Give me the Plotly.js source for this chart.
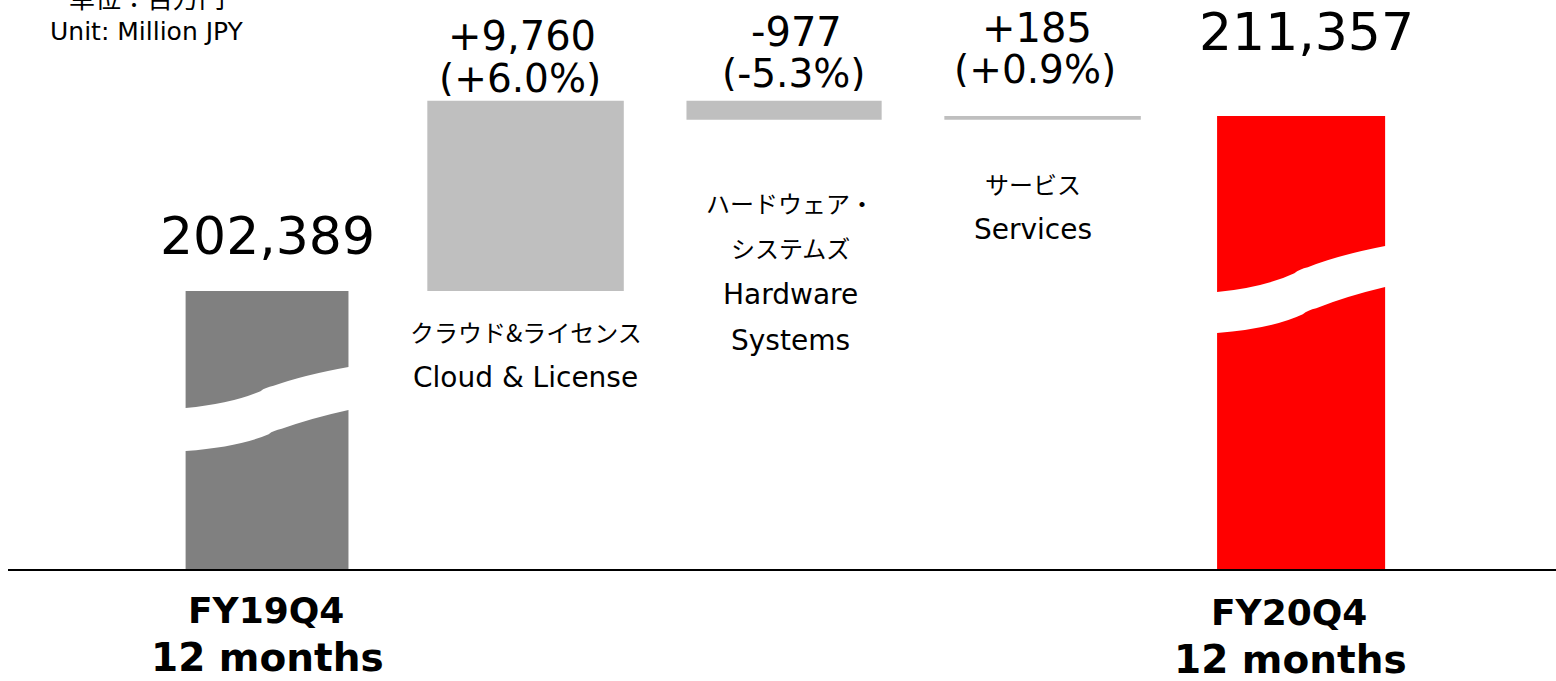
<!DOCTYPE html>
<html>
<head>
<meta charset="utf-8">
<script src="https://cdn.plot.ly/plotly-3.0.1.min.js"></script>
<style>
  html, body { margin: 0; padding: 0; background: #ffffff; }
  #chart { width: 1556px; height: 681px; }
</style>
</head>
<body>
<div id="chart"></div>
<script>
// ---------------- DATA ----------------
const totalLabels = ['FY19Q4', 'FY20Q4'];
const totalPeriod = ['12 months', '12 months'];
const totalValues = [202389, 211357];

const deltaValues = [9760, -977, 185];
const deltaPct = [6.0, -5.3, 0.9];
const deltaLinesJa = [['クラウド&ライセンス'], ['ハードウェア・', 'システムズ'], ['サービス']];
const deltaLinesEn = [['Cloud & License'], ['Hardware', 'Systems'], ['Services']];

const unitJa = '単位：百万円';
const unitEn = 'Unit: Million JPY';

// ---------------- BUILD ----------------
const LATIN = 'DejaVu Sans, Verdana, sans-serif';
const JA = 'Noto Sans CJK JP, sans-serif';
const PLOT_H = 569;
const totalX = [0, 4];
const deltaX = [1, 2, 3];
const totalW = [0.63, 0.65];
const deltaW = [0.76, 0.755, 0.76];

// cumulative bases for the bridge
const deltaBase = [];
let run = totalValues[0];
deltaValues.forEach(v => { deltaBase.push(run); run += v; });

const fmt = n => Math.abs(n).toLocaleString('en-US');
const sign = n => (n >= 0 ? '+' : '-');

const traces = [
  {
    type: 'bar', x: totalX, y: totalValues, width: totalW,
    marker: { color: ['#808080', '#ff0000'], line: { width: 0 } },
    hoverinfo: 'skip', showlegend: false
  },
  {
    type: 'bar', x: deltaX, y: deltaValues, base: deltaBase, width: deltaW,
    marker: { color: '#bfbfbf', line: { width: 0 } },
    hoverinfo: 'skip', showlegend: false
  }
];

const py = p => 1 - p / PLOT_H; // pixel row inside plot -> paper y

const ann = [];
function addText(text, x, xref, yPx, size, family, extra) {
  ann.push(Object.assign({
    text: text, x: x, xref: xref, y: py(yPx), yref: 'paper',
    xanchor: 'center', yanchor: 'middle', showarrow: false,
    font: { size: size, family: family, color: '#000000' }
  }, extra || {}));
}

// total value labels
const totalValY = [236, 32];
totalValues.forEach((v, i) => addText(v.toLocaleString('en-US'), totalX[i], 'x', totalValY[i], 52, LATIN, { xshift: i === 1 ? 5 : 0 }));

// bottom period labels
const totShift = [-1, -12];
totalLabels.forEach((t, i) => {
  addText('<b>' + t + '</b>', totalX[i], 'x', 610 + i * 2, 36, LATIN, { xshift: totShift[i] });
  addText('<b>' + totalPeriod[i] + '</b>', totalX[i], 'x', 657 + i * 2, 39, LATIN, { xshift: totShift[i] + 1 });
});

// delta labels
const dValY = [36, 32, 28];
const dPctY = [78, 73, 69];
const dShift = [-4, 12, -6];
deltaValues.forEach((v, i) => {
  addText(sign(v) + fmt(v), deltaX[i], 'x', dValY[i], 40, LATIN, { xshift: dShift[i], height: 36, valign: 'middle' });
  addText('(' + sign(deltaPct[i]) + Math.abs(deltaPct[i]).toFixed(1) + '%)', deltaX[i], 'x', dPctY[i], 39, LATIN, { xshift: dShift[i] - 2, height: 36, valign: 'middle' });
});

// category labels under delta bars
const catStartY = [331, 202, 183];
const catShift = [0, 6, -10];
deltaX.forEach((x, i) => {
  let y = catStartY[i];
  deltaLinesJa[i].forEach(t => { addText(t, x, 'x', y, 24, JA, { xshift: catShift[i] }); y += 46; });
  deltaLinesEn[i].forEach(t => { addText(t, x, 'x', y, 28, LATIN, { xshift: catShift[i] }); y += 46; });
});

// unit
addText(unitJa, 140 / 1556, 'paper', -3, 26, JA);
addText(unitEn, 140 / 1556, 'paper', 31, 25, LATIN);

// axis break (wave) decorations on total bars
function breakPath(xc, w, y0, D, T) {
  const X = f => (xc - w / 2 + f * w).toFixed(4);
  const Y = p => py(p).toFixed(5);
  const top = { p0: [0, 0], c1: [0.28, -0.1 * D], p1: [0.46, -0.41 * D], cs: [0.49, -0.5 * D], p2: [0.54, -0.54 * D], c2: [0.72, -0.8 * D], p3: [1, -D] };
  const s = 0.05;
  const b = k => [Math.min(1, Math.max(0, top[k][0] + (k === 'p0' || k === 'p3' ? 0 : s))), top[k][1] + T];
  const P = (pt) => X(pt[0]) + ',' + Y(y0 + pt[1]);
  let d = 'M' + X(-0.03) + ',' + Y(y0) + ' L' + P(top.p0) +
    ' Q' + P(top.c1) + ' ' + P(top.p1) +
    ' Q' + P(top.cs) + ' ' + P(top.p2) +
    ' Q' + P(top.c2) + ' ' + P(top.p3) +
    ' L' + X(1.03) + ',' + Y(y0 - D) +
    ' L' + X(1.03) + ',' + Y(y0 - D + T) +
    ' L' + P(b('p3')) +
    ' Q' + P(b('c2')) + ' ' + P(b('p2')) +
    ' Q' + P(b('cs')) + ' ' + P(b('p1')) +
    ' Q' + P(b('c1')) + ' ' + P(b('p0')) +
    ' L' + X(-0.03) + ',' + Y(y0 + T) + ' Z';
  return d;
}
const breakSpec = [{ y0: 408, D: 41, T: 43 }, { y0: 292, D: 46, T: 41 }];
const shapes = totalX.map((x, i) => ({
  type: 'path', xref: 'x', yref: 'paper', layer: 'above',
  path: breakPath(x, totalW[i], breakSpec[i].y0, breakSpec[i].D, breakSpec[i].T),
  fillcolor: '#ffffff', line: { width: 0 }
}));

const layout = {
  width: 1556, height: 681,
  margin: { l: 8, r: 0, t: 0, b: 112, pad: 0 },
  paper_bgcolor: '#ffffff', plot_bgcolor: '#ffffff',
  showlegend: false,
  barmode: 'overlay',
  xaxis: {
    range: [-1.002, 4.986], showgrid: false, zeroline: false,
    showticklabels: false, ticks: '', showline: true,
    linecolor: '#000000', linewidth: 2, fixedrange: true
  },
  yaxis: {
    range: [188133, 217312], visible: false, showgrid: false,
    zeroline: false, fixedrange: true
  },
  annotations: ann,
  shapes: shapes
};

Plotly.newPlot('chart', traces, layout, { displayModeBar: false, staticPlot: true });
</script>
</body>
</html>
